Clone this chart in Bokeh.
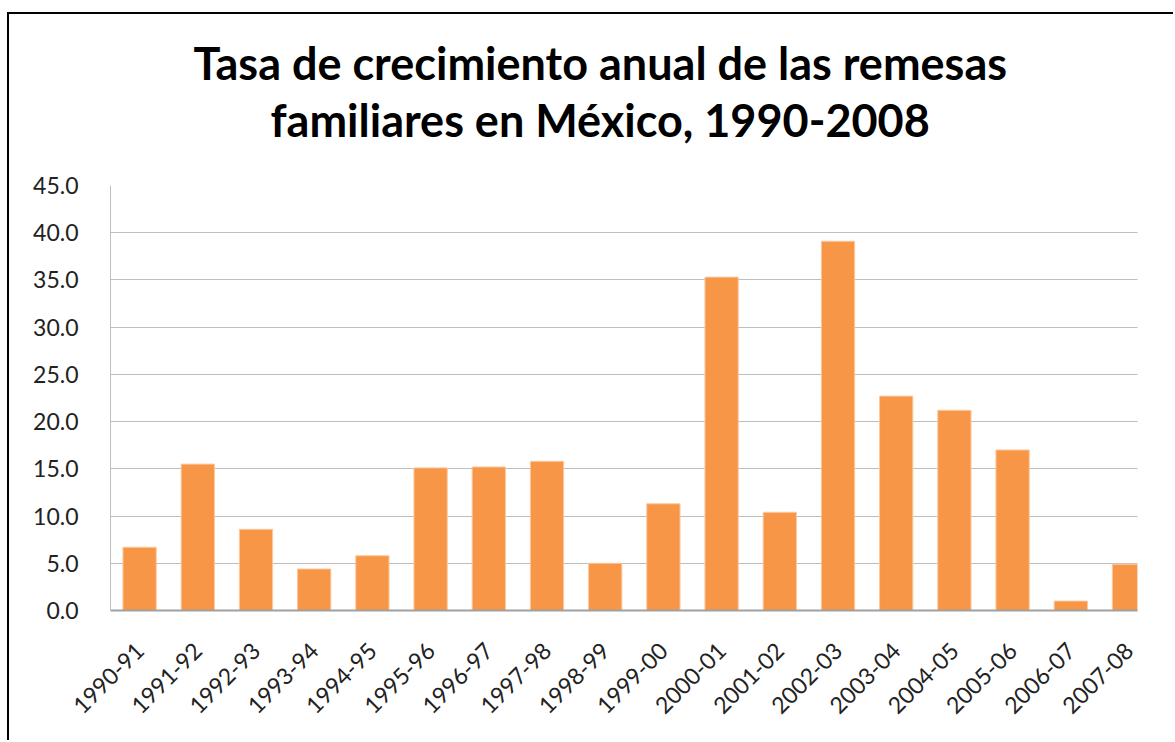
from bokeh.plotting import figure
from bokeh.models import Range1d, FixedTicker, PrintfTickFormatter, Title, ColumnDataSource
from bokeh.embed import file_html
from bokeh.resources import INLINE
import math

periods = ["1990-91", "1991-92", "1992-93", "1993-94", "1994-95", "1995-96",
           "1996-97", "1997-98", "1998-99", "1999-00", "2000-01", "2001-02",
           "2002-03", "2003-04", "2004-05", "2005-06", "2006-07", "2007-08"]
growth = [6.7, 15.5, 8.6, 4.4, 5.8, 15.1, 15.2, 15.8, 5.0, 11.3,
          35.3, 10.4, 39.1, 22.7, 21.2, 17.0, 1.0, 4.9]
y_ticks = [0, 5, 10, 15, 20, 25, 30, 35, 40, 45]
title_lines = ["Tasa de crecimiento anual de las remesas",
               "familiares en México, 1990-2008"]

FONT = "Lato"

idx = list(range(len(periods)))
src = ColumnDataSource(dict(x=idx, top=growth, label=periods))

p = figure(width=1166, height=728, output_backend="svg", toolbar_location=None,
           x_range=Range1d(-0.5, 17.146), y_range=Range1d(0, 45),
           min_border_left=101, min_border_right=38, min_border_top=171,
           min_border_bottom=132)
p.styles = {"border-left": "2px solid black", "border-top": "2px solid black",
            "margin-top": "12px", "margin-left": "7px"}
p.outline_line_color = None
p.background_fill_color = "white"
p.border_fill_color = "white"

p.vbar(x="x", top="top", width=0.572, bottom=0, source=src,
       fill_color="#F79646", line_color="#FBC9A0", line_width=1)

# y axis
p.yaxis.ticker = FixedTicker(ticks=y_ticks)
p.yaxis.formatter = PrintfTickFormatter(format="%.1f")
p.yaxis.major_tick_line_color = None
p.yaxis.minor_tick_line_color = None
p.yaxis.axis_line_color = "#BFBFBF"
p.yaxis.major_label_text_font = FONT
p.yaxis.major_label_text_font_size = "23px"
p.yaxis.major_label_text_color = "#222222"
p.yaxis.major_label_standoff = 26

# x axis
p.xaxis.ticker = FixedTicker(ticks=idx)
p.xaxis.major_label_overrides = {i: s for i, s in enumerate(periods)}
p.xaxis.major_tick_line_color = None
p.xaxis.minor_tick_line_color = None
p.xaxis.axis_line_color = "#A0A0A0"
p.xaxis.axis_line_width = 2
p.xaxis.major_label_orientation = math.pi / 4
p.xaxis.major_label_text_font = FONT
p.xaxis.major_label_text_font_size = "23px"
p.xaxis.major_label_text_color = "#222222"
p.xaxis.major_label_standoff = 30

p.xgrid.grid_line_color = None
p.ygrid.ticker = FixedTicker(ticks=y_ticks)
p.ygrid.grid_line_color = "#7A7A7A"
p.ygrid.grid_line_dash = "1 1"
p.ygrid.grid_line_width = 1

# spacer between the plot area and the title block
p.add_layout(Title(text=" ", text_font_size="10px", standoff=25), "above")
# title: second line added first (closest to the plot)
for text, off, stand in [(title_lines[1], 160, 2), (title_lines[0], 83, 0)]:
    p.add_layout(Title(text=text, align="left", offset=off, standoff=stand,
                       text_font=FONT, text_font_style="bold",
                       text_font_size="45px", text_color="black"), "above")

open("out.html", "w").write(file_html(p, INLINE))
